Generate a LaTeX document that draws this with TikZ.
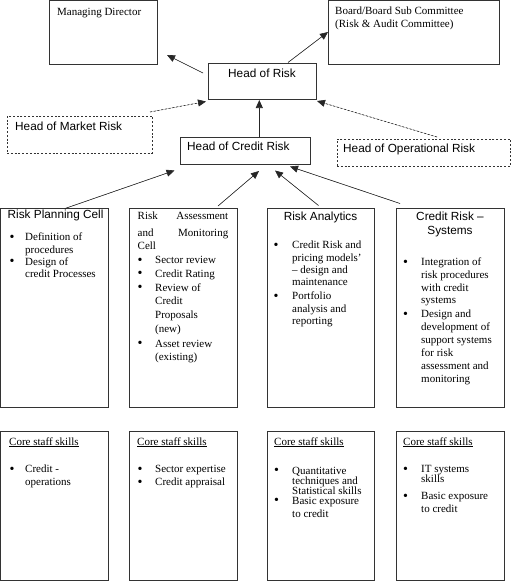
\documentclass[tikz,border=0pt]{standalone}
\usepackage{fontspec}
\setmainfont{Liberation Serif}
\newfontfamily\sansf{Liberation Sans}
\usetikzlibrary{arrows.meta}
\begin{document}
\begin{tikzpicture}[x=1pt,y=-1pt,
  box/.style={draw=black!80, line width=0.8pt, inner sep=0pt, outer sep=0pt, anchor=north west},
  dbox/.style={box, line width=0.6pt, dash pattern=on 2pt off 1.8pt},
  txt/.style={inner sep=0pt, anchor=west, font=\fontsize{11}{13}\selectfont, text height=7.5pt, text depth=2.5pt},
  stxt/.style={txt, font=\sansf\fontsize{11.8}{14}\selectfont},
  bul/.style={inner sep=0pt, anchor=center, font=\fontsize{14}{14}\selectfont},
  arr/.style={-{Triangle[length=8pt,width=7pt]}, line width=0.6pt, draw=black!85, fill=black},
  darr/.style={arr, dash pattern=on 2pt off 1.8pt}]
\useasboundingbox (0,0) rectangle (511,581);

% top boxes
\node[box, minimum width=108pt, minimum height=63.5pt] (md) at (49,0.5) {};
\node[txt] (mdt) at (57,13) {Managing Director};
\node[box, minimum width=171pt, minimum height=63.5pt] (bd) at (328,0.5) {};
\node[txt] (bdt1) at (335,12) {Board/Board Sub Committee};
\node[txt] (bdt2) at (335,25) {(Risk \& Audit Committee)};

\node[box, minimum width=108pt, minimum height=36pt] (hor) at (208,63) {};
\node[stxt, anchor=center] (hort) at (262,75) {Head of Risk};

\node[dbox, minimum width=145pt, minimum height=37pt] (mkt) at (7,116) {};
\node[stxt] (mktt) at (15,128) {Head of Market Risk};

\node[box, minimum width=130pt, minimum height=27pt] (hcr) at (180,137) {};
\node[stxt] (hcrt) at (187,148) {Head of Credit Risk};

\node[dbox, minimum width=173.5pt, minimum height=27pt] (op) at (337,139) {};
\node[stxt] (opt) at (343,150) {Head of Operational Risk};

% row 1 boxes
\node[box, minimum width=107.5pt, minimum height=199pt] (r1) at (0.5,208) {};
\node[box, minimum width=108pt, minimum height=199pt] (r2) at (129,208) {};
\node[box, minimum width=107pt, minimum height=199pt] (r3) at (267,208) {};
\node[box, minimum width=108pt, minimum height=199pt] (r4) at (396,208) {};

% row 2 boxes
\node[box, minimum width=107.5pt, minimum height=149pt] (s1) at (0.5,431) {};
\node[box, minimum width=108pt, minimum height=149pt] (s2) at (129,431) {};
\node[box, minimum width=107pt, minimum height=149pt] (s3) at (267,431) {};
\node[box, minimum width=108pt, minimum height=149pt] (s4) at (396,431) {};

% row 1 texts
\node[stxt] (r1t) at (7.5,216) {Risk Planning Cell};
\foreach \yy/\ltext [count=\i] in {238/Definition of, 250.5/procedures, 262.5/Design of, 274.5/credit Processes}
  \node[txt] (r1l\i) at (25,\yy) {\ltext};
\foreach \yy [count=\i] in {238, 262.5}
  \node[bul] (r1b\i) at (12,\yy) {\textbullet};

\node[txt] (r2t1) at (137.5,217) {Risk};
\node[txt, anchor=east] (r2t2) at (228.5,217) {Assessment};
\node[txt] (r2t3) at (137.5,233.5) {and};
\node[txt, anchor=east] (r2t4) at (228.5,233.5) {Monitoring};
\node[txt] (r2t5) at (137.5,247) {Cell};
\foreach \yy/\ltext [count=\i] in {261/Sector review, 274.5/Credit Rating, 288.5/Review of, 302/Credit, 315.5/Proposals, 329.5/(new), 344.5/Asset review, 357.5/(existing)}
  \node[txt] (r2l\i) at (155,\yy) {\ltext};
\foreach \yy [count=\i] in {261, 274.5, 288.5, 344.5}
  \node[bul] (r2b\i) at (140,\yy) {\textbullet};

\node[stxt, anchor=center] (r3t) at (320.5,218) {Risk Analytics};
\foreach \yy/\ltext [count=\i] in {246/Credit Risk and, 258.5/pricing models', 271/– design and, 283/maintenance, 297/Portfolio, 309.5/analysis and, 322/reporting}
  \node[txt] (r3l\i) at (292,\yy) {\ltext};
\foreach \yy [count=\i] in {246, 297}
  \node[bul] (r3b\i) at (276,\yy) {\textbullet};

\node[stxt, anchor=center] (r4t1) at (450,218) {Credit Risk –};
\node[stxt, anchor=center] (r4t2) at (450,232) {Systems};
\foreach \yy/\ltext [count=\i] in {263/Integration of, 276/risk procedures, 288.5/with credit, 301/systems, 315/Design and, 328/development of, 341/support systems, 354/for risk, 367/assessment and, 379.5/monitoring}
  \node[txt] (r4l\i) at (421,\yy) {\ltext};
\foreach \yy [count=\i] in {263, 315}
  \node[bul] (r4b\i) at (405.5,\yy) {\textbullet};

% row 2 texts
\node[txt] (s1t) at (9,442.5) {\underline{Core staff skills}};
\foreach \yy/\ltext [count=\i] in {470/Credit -, 483/operations}
  \node[txt] (s1l\i) at (25,\yy) {\ltext};
\node[bul] (s1b1) at (12,470) {\textbullet};

\node[txt] (s2t) at (137,442.5) {\underline{Core staff skills}};
\foreach \yy/\ltext [count=\i] in {470/Sector expertise, 483/Credit appraisal}
  \node[txt] (s2l\i) at (155,\yy) {\ltext};
\foreach \yy [count=\i] in {470, 483}
  \node[bul] (s2b\i) at (140,\yy) {\textbullet};

\node[txt] (s3t) at (274,442.5) {\underline{Core staff skills}};
\foreach \yy/\ltext [count=\i] in {471.5/Quantitative, 481.5/techniques and, 491.5/Statistical skills, 501.5/Basic exposure, 515/to credit}
  \node[txt] (s3l\i) at (292,\yy) {\ltext};
\foreach \yy [count=\i] in {471.5, 501.5}
  \node[bul] (s3b\i) at (276.5,\yy) {\textbullet};

\node[txt] (s4t) at (403,442.5) {\underline{Core staff skills}};
\foreach \yy/\ltext [count=\i] in {470/IT systems, 480/skills, 497/Basic exposure, 510/to credit}
  \node[txt] (s4l\i) at (421,\yy) {\ltext};
\foreach \yy [count=\i] in {470, 497}
  \node[bul] (s4b\i) at (405.5,\yy) {\textbullet};

% connector end points
\coordinate (a1s) at (203,73);   \coordinate (a1e) at (167,55);
\coordinate (a2s) at (288,62.5); \coordinate (a2e) at (328,32);
\coordinate (a3s) at (150,112);  \coordinate (a3e) at (206,101.5);
\coordinate (a4s) at (437,137);  \coordinate (a4e) at (317,101);
\coordinate (a5s) at (259.3,137); \coordinate (a5e) at (259.3,100);
\coordinate (a6s) at (65,208.5); \coordinate (a6e) at (174.5,170.5);
\coordinate (a7s) at (218,206);  \coordinate (a7e) at (259,171);
\coordinate (a8s) at (318.5,205.5); \coordinate (a8e) at (275,170.5);
\coordinate (a9s) at (400,203.5); \coordinate (a9e) at (290,166.5);

\draw[arr] (a1s) -- (a1e);
\draw[arr] (a2s) -- (a2e);
\draw[darr] (a3s) -- (a3e);
\draw[darr] (a4s) -- (a4e);
\draw[arr] (a5s) -- (a5e);
\draw[arr] (a6s) -- (a6e);
\draw[arr] (a7s) -- (a7e);
\draw[arr] (a8s) -- (a8e);
\draw[arr] (a9s) -- (a9e);
\end{tikzpicture}
\end{document}
